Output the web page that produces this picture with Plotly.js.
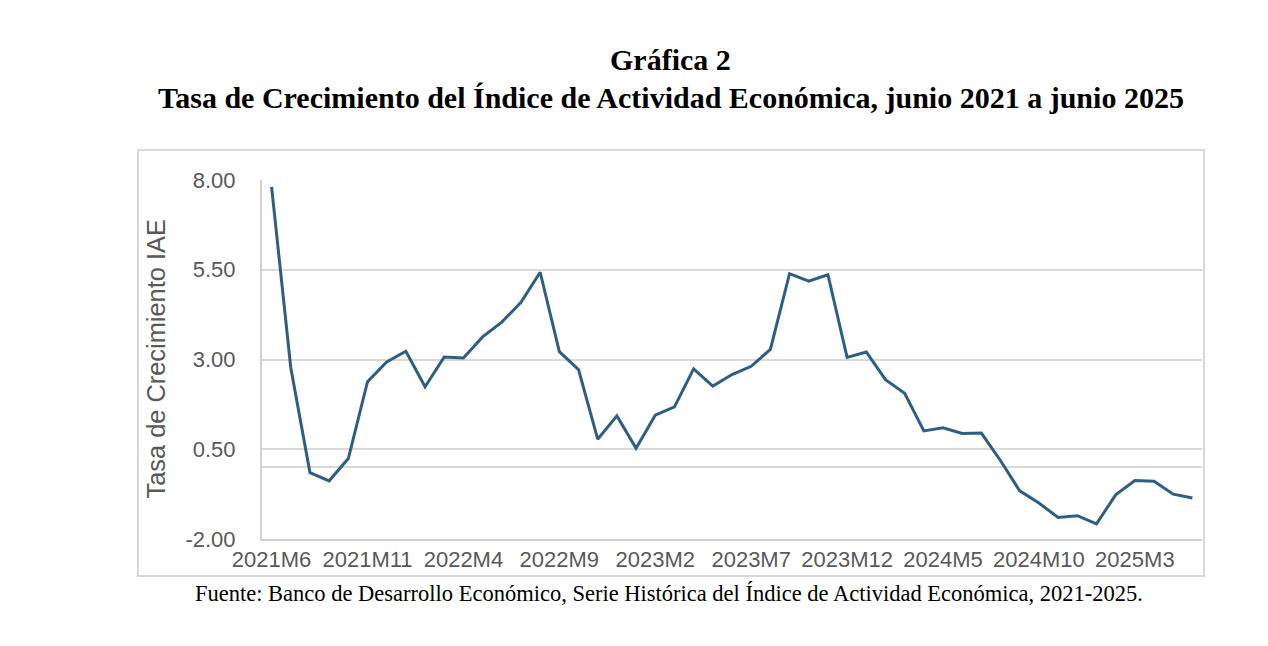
<!DOCTYPE html>
<html>
<head>
<meta charset="utf-8">
<script src="https://cdn.plot.ly/plotly-3.0.1.min.js"></script>
<style>html,body{margin:0;padding:0;background:#fff;}#chart{width:1268px;height:646px;}</style>
</head>
<body>
<div id="chart"></div>
<script>
const months = [
  "2021M6","2021M7","2021M8","2021M9","2021M10","2021M11","2021M12",
  "2022M1","2022M2","2022M3","2022M4","2022M5","2022M6","2022M7","2022M8","2022M9","2022M10","2022M11","2022M12",
  "2023M1","2023M2","2023M3","2023M4","2023M5","2023M6","2023M7","2023M8","2023M9","2023M10","2023M11","2023M12",
  "2024M1","2024M2","2024M3","2024M4","2024M5","2024M6","2024M7","2024M8","2024M9","2024M10","2024M11","2024M12",
  "2025M1","2025M2","2025M3","2025M4","2025M5","2025M6"
];
const growthRate = [
  7.81, 2.77, -0.15, -0.38, 0.24, 2.38, 2.93,
  3.23, 2.24, 3.07, 3.04, 3.63, 4.04, 4.59, 5.43, 3.22, 2.72, 0.78, 1.43,
  0.53, 1.45, 1.68, 2.74, 2.26, 2.58, 2.81, 3.28, 5.39, 5.18, 5.36, 3.06,
  3.21, 2.44, 2.06, 1.01, 1.10, 0.94, 0.95, 0.18, -0.66, -1.00, -1.40, -1.35,
  -1.58, -0.77, -0.37, -0.39, -0.75, -0.86
];
const xTickLabels = ["2021M6","2021M11","2022M4","2022M9","2023M2","2023M7","2023M12","2024M5","2024M10","2025M3"];
const yTickValues = [-2.00, 0.50, 3.00, 5.50, 8.00];
const yTickLabels = ["-2.00","0.50","3.00","5.50","8.00"];

const titleLine1 = "Gráfica 2";
const titleLine2 = "Tasa de Crecimiento del Índice de Actividad Económica, junio 2021 a junio 2025";
const yTitle = "Tasa de Crecimiento IAE";
const sourceNote = "Fuente: Banco de Desarrollo Económico, Serie Histórica del Índice de Actividad Económica, 2021-2025.";

const trace = {
  type: "scatter",
  mode: "lines",
  x: months,
  y: growthRate,
  line: {color: "#2E5F82", width: 3},
  hoverinfo: "x+y"
};

const grey = "#595959";
const layout = {
  width: 1268,
  height: 646,
  margin: {l: 262, r: 66, t: 180, b: 107},
  paper_bgcolor: "#ffffff",
  plot_bgcolor: "#ffffff",
  showlegend: false,
  xaxis: {
    type: "category",
    range: [-0.5, months.length - 0.5],
    tickmode: "array",
    tickvals: xTickLabels,
    ticktext: xTickLabels,
    tickangle: 0,
    showgrid: false,
    showline: true,
    linecolor: "#d0d0d0",
    linewidth: 2,
    ticks: "",
    tickfont: {family: "Liberation Sans, Arial, sans-serif", size: 22, color: grey},
    fixedrange: true
  },
  yaxis: {
    range: [-2, 8],
    tickmode: "array",
    tickvals: yTickValues,
    ticktext: yTickLabels,
    showgrid: true,
    gridcolor: "#d9d9d9",
    gridwidth: 2,
    zeroline: true,
    zerolinecolor: "#d9d9d9",
    zerolinewidth: 2,
    showline: true,
    linecolor: "#d0d0d0",
    linewidth: 2,
    ticks: "",
    ticklabelstandoff: 20,
    tickfont: {family: "Liberation Sans, Arial, sans-serif", size: 22, color: grey},
    fixedrange: true
  },
  shapes: [{
    type: "rect", xref: "paper", yref: "paper",
    x0: -0.1319, x1: 1.0021, y0: -0.1031, y1: 1.0836,
    line: {color: "#d9d9d9", width: 2},
    fillcolor: "rgba(0,0,0,0)",
    layer: "below"
  }],
  annotations: [
    {text: "<b>" + titleLine1 + "</b>", xref: "paper", yref: "paper", x: 0.4351, y: 1.337,
     xanchor: "center", yanchor: "middle", showarrow: false,
     font: {family: "Liberation Serif, Times New Roman, serif", size: 30, color: "#000"}},
    {text: "<b>" + titleLine2 + "</b>", xref: "paper", yref: "paper", x: 0.4351, y: 1.231,
     xanchor: "center", yanchor: "middle", showarrow: false,
     font: {family: "Liberation Serif, Times New Roman, serif", size: 30, color: "#000"}},
    {text: yTitle, xref: "paper", yref: "paper", x: -0.1138, y: 0.5, textangle: -90,
     xanchor: "center", yanchor: "middle", showarrow: false,
     font: {family: "Liberation Sans, Arial, sans-serif", size: 25.4, color: grey}},
    {text: sourceNote, xref: "paper", yref: "paper", x: 0.4335, y: -0.1532,
     xanchor: "center", yanchor: "middle", showarrow: false,
     font: {family: "Liberation Serif, Times New Roman, serif", size: 22.5, color: "#000"}}
  ]
};

Plotly.newPlot("chart", [trace], layout, {displayModeBar: false, staticPlot: true});
</script>
</body>
</html>
